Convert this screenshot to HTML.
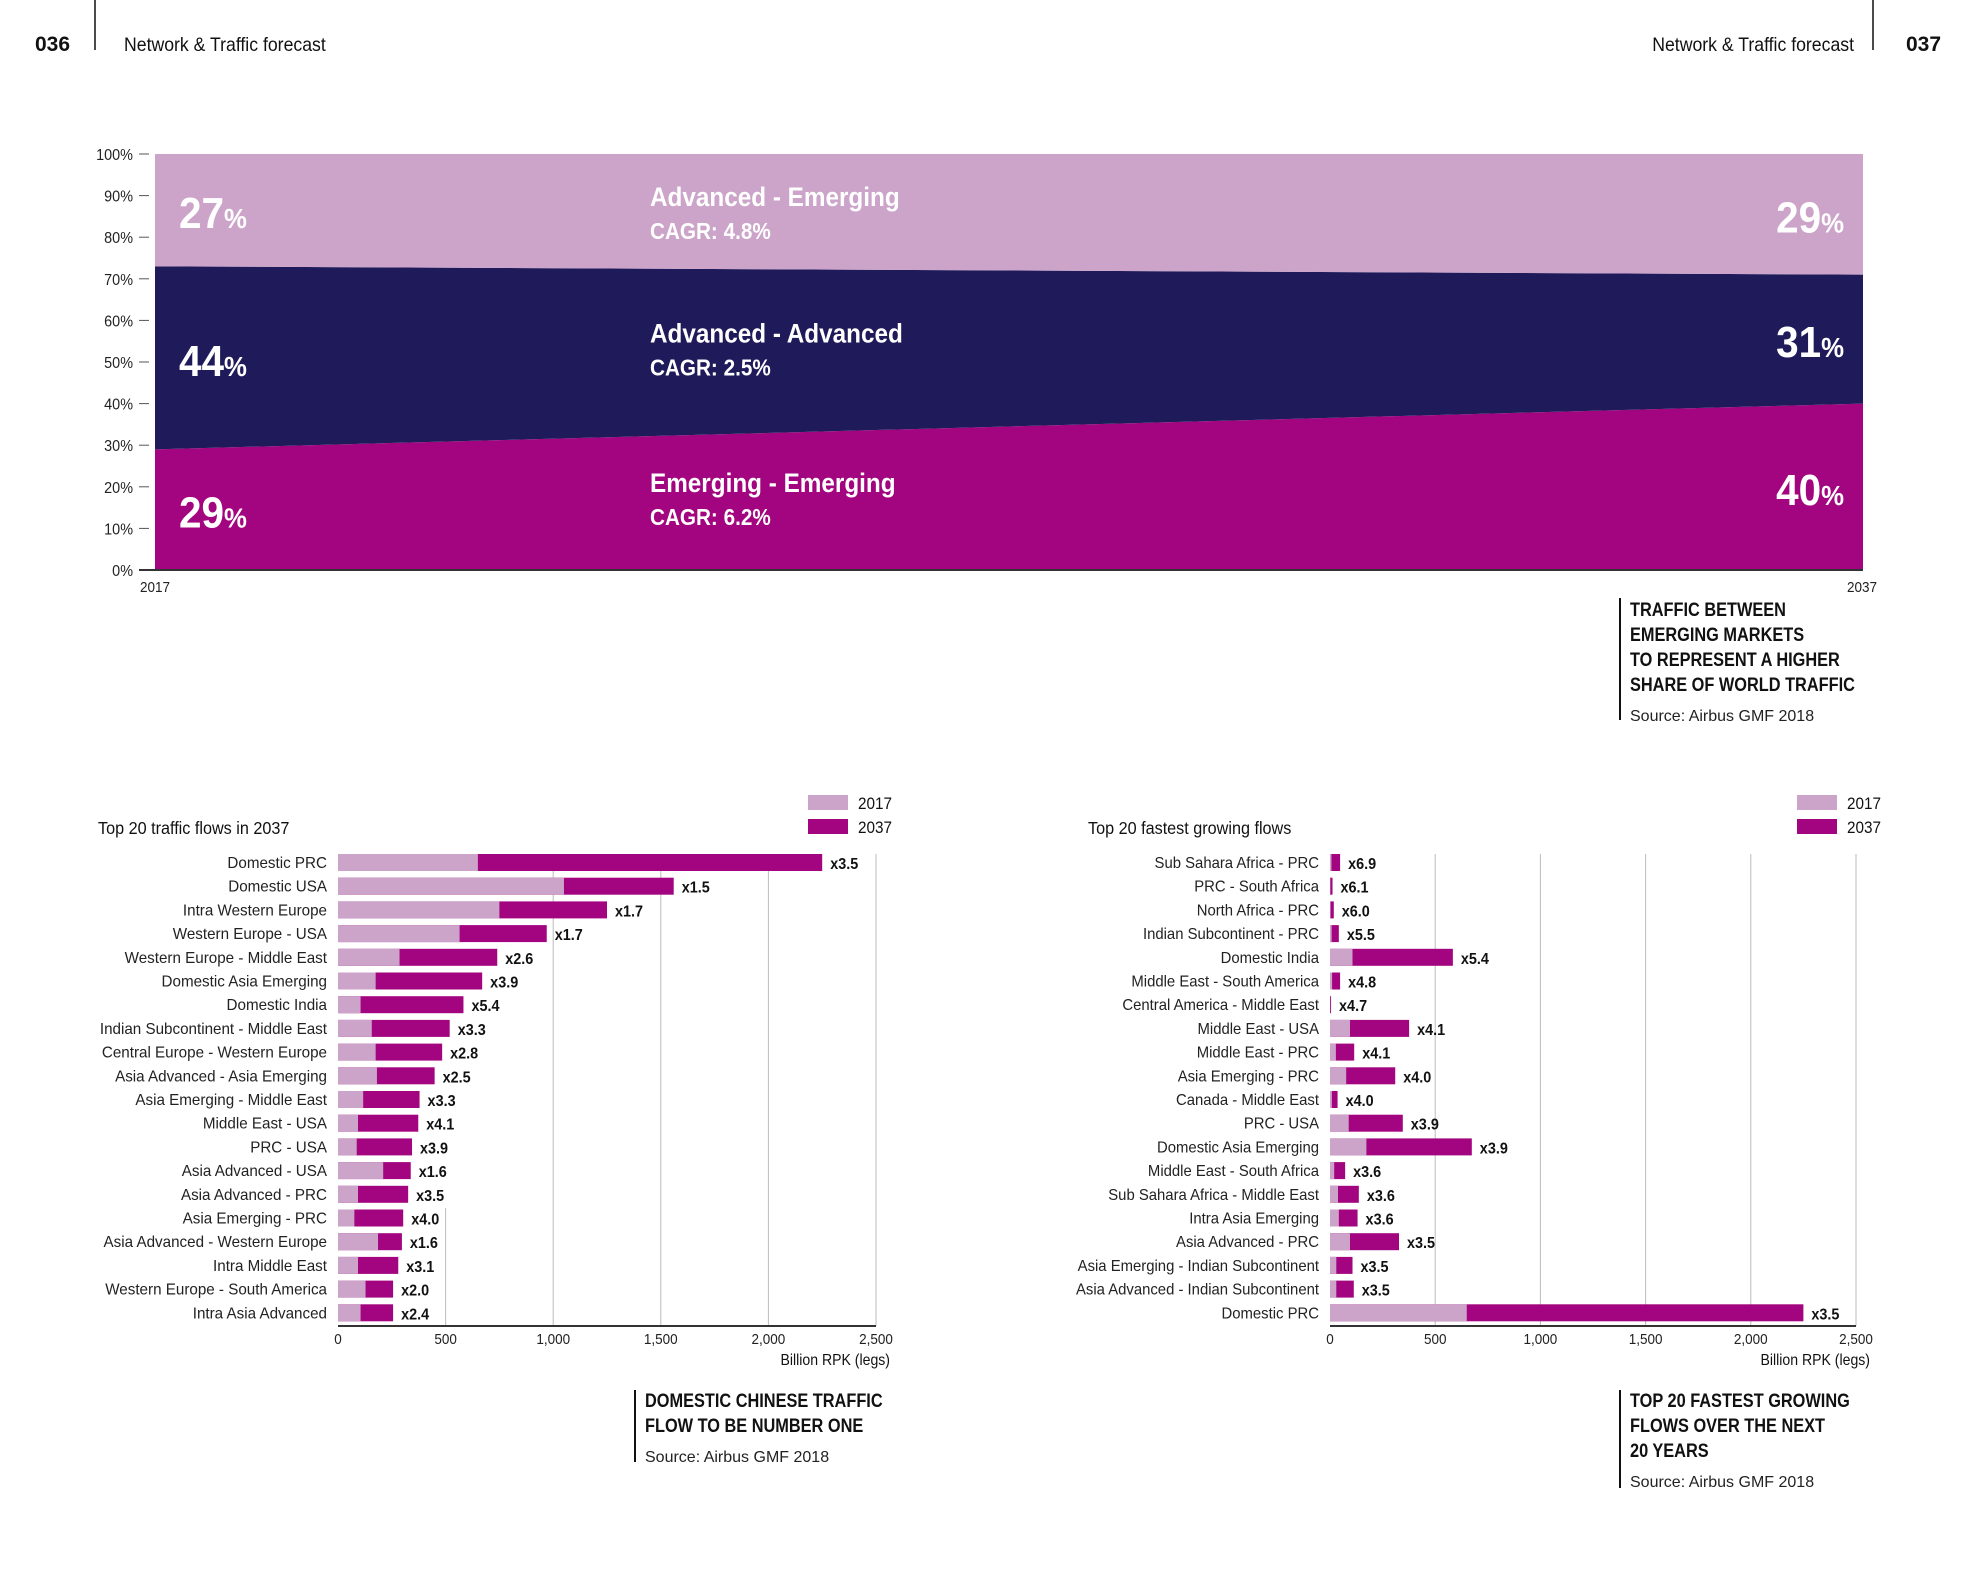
<!DOCTYPE html>
<html><head><meta charset="utf-8"><style>
html,body{margin:0;padding:0;background:#fff;}
svg{display:block;font-family:"Liberation Sans Narrow","Liberation Sans",sans-serif;}
</style></head><body>
<svg id="page" width="1969" height="1575" viewBox="0 0 1969 1575" xmlns="http://www.w3.org/2000/svg">
<g>
<text x="35" y="51" font-size="21" font-weight="bold" fill="#111">036</text>
<line x1="95" y1="0" x2="95" y2="50" stroke="#111" stroke-width="1.5"/>
<g transform="translate(124,51) scale(0.93,1)"><text x="0" y="0" font-size="19" fill="#111">Network &amp; Traffic forecast</text></g>
<g transform="translate(1854,51) scale(0.93,1)"><text x="0" y="0" font-size="19" fill="#111" text-anchor="end">Network &amp; Traffic forecast</text></g>
<line x1="1873" y1="0" x2="1873" y2="50" stroke="#111" stroke-width="1.5"/>
<text x="1906" y="51" font-size="21" font-weight="bold" fill="#111">037</text>
</g>
<g id="area"></g>
<g>
<line x1="1620" y1="598" x2="1620" y2="720" stroke="#111" stroke-width="2"/>
<g transform="translate(1630,0) scale(0.86,1)"><text font-size="19" font-weight="bold" fill="#111"><tspan x="0" y="616">TRAFFIC BETWEEN</tspan><tspan x="0" y="641">EMERGING MARKETS</tspan><tspan x="0" y="666">TO REPRESENT A HIGHER</tspan><tspan x="0" y="691">SHARE OF WORLD TRAFFIC</tspan></text></g>
<text x="1630" y="721" font-size="16" font-family="Liberation Sans" fill="#222">Source: Airbus GMF 2018</text>
</g>
<g id="left"></g>
<g id="right"></g>
<g>
<line x1="635" y1="1390" x2="635" y2="1462" stroke="#111" stroke-width="2"/>
<g transform="translate(645,0) scale(0.86,1)"><text font-size="19" font-weight="bold" fill="#111"><tspan x="0" y="1407">DOMESTIC CHINESE TRAFFIC</tspan><tspan x="0" y="1432">FLOW TO BE NUMBER ONE</tspan></text></g>
<text x="645" y="1462" font-size="16" font-family="Liberation Sans" fill="#222">Source: Airbus GMF 2018</text>
</g>
<g>
<line x1="1620" y1="1390" x2="1620" y2="1488" stroke="#111" stroke-width="2"/>
<g transform="translate(1630,0) scale(0.86,1)"><text font-size="19" font-weight="bold" fill="#111"><tspan x="0" y="1407">TOP 20 FASTEST GROWING</tspan><tspan x="0" y="1432">FLOWS OVER THE NEXT</tspan><tspan x="0" y="1457">20 YEARS</tspan></text></g>
<text x="1630" y="1487" font-size="16" font-family="Liberation Sans" fill="#222">Source: Airbus GMF 2018</text>
</g>
</svg>
<script>
// ---- area chart data ----
const areaYears = ["2017", "2037"];
const emEm = [29, 40];
const advAdv = [44, 31];
const advEm = [27, 29];
const areaTicks = [0,10,20,30,40,50,60,70,80,90,100];
const areaNames = ["Emerging - Emerging","Advanced - Advanced","Advanced - Emerging"];
const areaCagr = ["CAGR: 6.2%","CAGR: 2.5%","CAGR: 4.8%"];

// ---- left bar chart data ----
const leftCats = ["Domestic PRC","Domestic USA","Intra Western Europe","Western Europe - USA","Western Europe - Middle East","Domestic Asia Emerging","Domestic India","Indian Subcontinent - Middle East","Central Europe - Western Europe","Asia Advanced - Asia Emerging","Asia Emerging - Middle East","Middle East - USA","PRC - USA","Asia Advanced - USA","Asia Advanced - PRC","Asia Emerging - PRC","Asia Advanced - Western Europe","Intra Middle East","Western Europe - South America","Intra Asia Advanced"];
const left2017 = [650,1050,750,565,286,175,105,157,175,181,117,93,87,210,93,76,186,93,128,105];
const left2037 = [2250,1560,1250,970,740,670,583,519,484,449,379,373,344,338,326,303,297,280,256,256];
const leftMult = ["x3.5","x1.5","x1.7","x1.7","x2.6","x3.9","x5.4","x3.3","x2.8","x2.5","x3.3","x4.1","x3.9","x1.6","x3.5","x4.0","x1.6","x3.1","x2.0","x2.4"];

// ---- right bar chart data ----
const rightCats = ["Sub Sahara Africa - PRC","PRC - South Africa","North Africa - PRC","Indian Subcontinent - PRC","Domestic India","Middle East - South America","Central America - Middle East","Middle East - USA","Middle East - PRC","Asia Emerging - PRC","Canada - Middle East","PRC - USA","Domestic Asia Emerging","Middle East - South Africa","Sub Sahara Africa - Middle East","Intra Asia Emerging","Asia Advanced - PRC","Asia Emerging - Indian Subcontinent","Asia Advanced - Indian Subcontinent","Domestic PRC"];
const right2017 = [7,2,3,8,107,10,1,95,28,77,9,89,173,20,38,42,95,30,30,650];
const right2037 = [48,12,18,42,584,48,5,376,115,310,36,346,674,72,137,131,328,107,113,2250];
const rightMult = ["x6.9","x6.1","x6.0","x5.5","x5.4","x4.8","x4.7","x4.1","x4.1","x4.0","x4.0","x3.9","x3.9","x3.6","x3.6","x3.6","x3.5","x3.5","x3.5","x3.5"];

const xTicks = [0,500,1000,1500,2000,2500];
const xTickLabels = ["0","500","1,000","1,500","2,000","2,500"];

const NS="http://www.w3.org/2000/svg";
const LIGHT="#cca3c9", DARK="#a2057f", NAVY="#1f1b5a";
function mk(parent, tag, attrs, text){
  const e=document.createElementNS(NS,tag);
  for(const k in attrs) e.setAttribute(k,attrs[k]);
  if(text!==undefined) e.textContent=text;
  parent.appendChild(e); return e;
}
function sq(parent,x,y,sx){
  return mk(parent,'g',{transform:`translate(${x},${y}) scale(${sx},1)`});
}

// ---- area chart ----
(function(){
  const g=document.getElementById('area');
  const x0=155,x1=1863,yTop=154,yBot=570;
  const X=i=>x0+(x1-x0)*i;
  const Y=v=>yBot-(yBot-yTop)*v/100;
  const b1=emEm, b2=emEm.map((v,i)=>v+advAdv[i]);
  const b3=b2.map((v,i)=>v+advEm[i]);
  let p=mk(g,'polygon',{points:`${X(0)},${Y(0)} ${X(1)},${Y(0)} ${X(1)},${Y(b1[1])} ${X(0)},${Y(b1[0])}`,fill:DARK});
  
  
  p=mk(g,'polygon',{points:`${X(0)},${Y(b1[0])} ${X(1)},${Y(b1[1])} ${X(1)},${Y(b2[1])} ${X(0)},${Y(b2[0])}`,fill:NAVY});
  
  
  p=mk(g,'polygon',{points:`${X(0)},${Y(b2[0])} ${X(1)},${Y(b2[1])} ${X(1)},${Y(b3[1])} ${X(0)},${Y(b3[0])}`,fill:LIGHT});
  
  
  areaTicks.forEach(t=>{
    const y=Y(t);
    const l=mk(g,'line',{x1:139,x2:149,y1:y,y2:y,stroke:"#555","stroke-width":1});
    
    
    const tx=mk(sq(g,133,y+6,0.9),'text',{x:0,y:0,"font-size":16,"text-anchor":"end",fill:"#222"},t+"%");
    
    
  });
  const ax=mk(g,'line',{x1:139,x2:x1,y1:yBot,y2:yBot,stroke:"#333","stroke-width":2});
  
  
  [0,1].forEach(i=>{
    const t=mk(sq(g,i?1862:155,592,0.9),'text',{x:0,y:0,"font-size":15,"text-anchor":"middle",fill:"#222"},areaYears[i]);
    
    
  });
  const bounds=[[0,b1],[b1,b2],[b2,b3]];
  const vals=[emEm,advAdv,advEm];
  bounds.forEach((bb,k)=>{
    const lo=bb[0]===0?[0,0]:bb[0], hi=bb[1];
    for(let i=0;i<2;i++){
      const mid=Y((lo[i]+hi[i])/2)+18;
      const t=mk(sq(g,i?1844:179,mid,0.92),'text',{x:0,y:0,"font-size":44,"font-weight":"bold",fill:"#fff","text-anchor":i?"end":"start"});
      mk(t,'tspan',{},vals[k][i]);
      mk(t,'tspan',{"font-size":28},"%");
      
      
    }
    const midC=Y((lo[0]+hi[0]+lo[1]+hi[1])/4);
    const n=mk(sq(g,650,midC-6,0.9),'text',{x:0,y:0,"font-size":27,"font-weight":"bold",fill:"#fff"},areaNames[k]);
    
    
    const c=mk(sq(g,650,midC+27,0.9),'text',{x:0,y:0,"font-size":23,"font-weight":"bold",fill:"#fff"},areaCagr[k]);
    
    
  });
})();

// ---- bar charts ----
function barChart(id, cats, v17, v37, mult, cfg){
  const g=document.getElementById(id);
  const X=v=>cfg.x0+(cfg.x1-cfg.x0)*v/2500;
  const rowY=i=>862+i*23.7;
  const tt=mk(sq(g,cfg.titleX,834,0.9),'text',{x:0,y:0,"font-size":18,fill:"#111"},cfg.title);
  
  
  const lg=mk(g,'g',{});
  
  
  [[LIGHT,"2017",795],[DARK,"2037",819]].forEach(a=>{
    const r=mk(lg,'rect',{x:cfg.legX,y:a[2],width:40,height:15,fill:a[0]});
    
    
    const t=mk(sq(lg,cfg.legX+50,a[2]+14,0.9),'text',{x:0,y:0,"font-size":17,fill:"#111"},a[1]);
    
    
  });
  xTicks.forEach((t,i)=>{
    if(t>0){
      const ys=(cfg.short500 && t===500)?1208:854;
      const l=mk(g,'line',{x1:X(t),x2:X(t),y1:ys,y2:1326,stroke:"#bbb","stroke-width":1});
      
      
    }
    const tx=mk(sq(g,X(t),1344,0.9),'text',{x:0,y:0,"font-size":15,"text-anchor":"middle",fill:"#222"},xTickLabels[i]);
    
    
  });
  const ax=mk(g,'line',{x1:cfg.x0,x2:cfg.x1,y1:1326,y2:1326,stroke:"#333","stroke-width":2});
  
  
  const at=mk(sq(g,cfg.x1+14,1365,0.88),'text',{x:0,y:0,"font-size":16,"text-anchor":"end",fill:"#111"},"Billion RPK (legs)");
  
  
  cats.forEach((c,i)=>{
    const y=rowY(i);
    const lab=mk(sq(g,cfg.x0-11,y+6,cfg.labScale),'text',{x:0,y:0,"font-size":16,"text-anchor":"end",fill:"#222"},c);
    
    
    const r2=mk(g,'rect',{x:X(0),y:y-8,width:X(v37[i])-X(0),height:17,fill:DARK});
    
    
    const r1=mk(g,'rect',{x:X(0),y:y-8,width:X(v17[i])-X(0),height:17,fill:LIGHT});
    
    
    const m=mk(sq(g,X(v37[i])+8,y+7,0.9),'text',{x:0,y:0,"font-size":16,"font-weight":"bold",fill:"#111"},mult[i]);
    
    
  });
}
barChart('left',leftCats,left2017,left2037,leftMult,{x0:338,x1:876,titleX:98,legX:808,title:"Top 20 traffic flows in 2037",short500:true,labScale:0.95});
barChart('right',rightCats,right2017,right2037,rightMult,{x0:1330,x1:1856,titleX:1088,legX:1797,title:"Top 20 fastest growing flows",short500:false,labScale:0.93});
</script>
</body></html>
